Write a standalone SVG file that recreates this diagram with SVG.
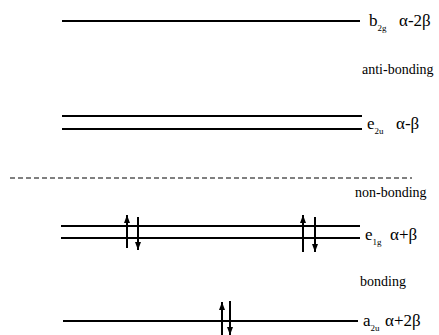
<svg xmlns="http://www.w3.org/2000/svg" width="439" height="335" viewBox="0 0 439 335">
<defs>
<marker id="ah" markerWidth="9" markerHeight="8" refX="8" refY="0" orient="auto" markerUnits="userSpaceOnUse" viewBox="0 -4 9 8">
<path d="M0,-3 L8,0 L0,3 Z" fill="#000"/>
</marker>
<style>
.lvl{stroke:#000;stroke-width:2;fill:none}
.spin{stroke:#000;stroke-width:2;fill:none}
.lab{font-family:"Liberation Serif",serif;font-size:17px;fill:#000}
.sub{font-size:9px}
.note{font-family:"Liberation Serif",serif;font-size:14px;fill:#000}
</style>
</defs>
<rect width="439" height="335" fill="#fff"/>
<g id="b2g">
<line class="lvl" x1="62" y1="21" x2="360" y2="21"/>
<text class="lab" x="369" y="26">b<tspan class="sub" dy="5">2g</tspan><tspan dy="-5" x="399">α-2β</tspan></text>
</g>
<g id="antibonding"><text class="note" x="362" y="74">anti-bonding</text></g>
<g id="e2u">
<line class="lvl" x1="62" y1="116" x2="362" y2="116"/>
<line class="lvl" x1="62" y1="129" x2="362" y2="129"/>
<text class="lab" x="367" y="129">e<tspan class="sub" dy="5">2u</tspan><tspan dy="-5" x="396">α-β</tspan></text>
</g>
<g id="nonbonding-line"><line x1="10" y1="178" x2="412" y2="178" stroke="#000" stroke-width="1" stroke-dasharray="5,3"/></g>
<g id="nonbonding"><text class="note" x="355" y="197">non-bonding</text></g>
<g id="e1g">
<line class="lvl" x1="61" y1="226" x2="360" y2="226"/>
<line class="lvl" x1="61" y1="238" x2="360" y2="238"/>
<text class="lab" x="365" y="240">e<tspan class="sub" dy="5">1g</tspan><tspan dy="-5" x="390">α+β</tspan></text>
</g>
<g id="bonding"><text class="note" x="360" y="286">bonding</text></g>
<g id="a2u">
<line class="lvl" x1="63" y1="321" x2="358" y2="321"/>
<text class="lab" x="363" y="326">a<tspan class="sub" dy="5">2u</tspan><tspan dy="-5" x="385">α+2β</tspan></text>
</g>
<g id="electrons">
<line class="spin" x1="127" y1="248" x2="127" y2="215" marker-end="url(#ah)"/>
<line class="spin" x1="138" y1="217" x2="138" y2="250" marker-end="url(#ah)"/>
<line class="spin" x1="303" y1="252" x2="303" y2="215" marker-end="url(#ah)"/>
<line class="spin" x1="315" y1="217" x2="315" y2="252" marker-end="url(#ah)"/>
<line class="spin" x1="222" y1="335" x2="222" y2="302" marker-end="url(#ah)"/>
<line class="spin" x1="230" y1="301" x2="230" y2="335" marker-end="url(#ah)"/>
</g>
</svg>
